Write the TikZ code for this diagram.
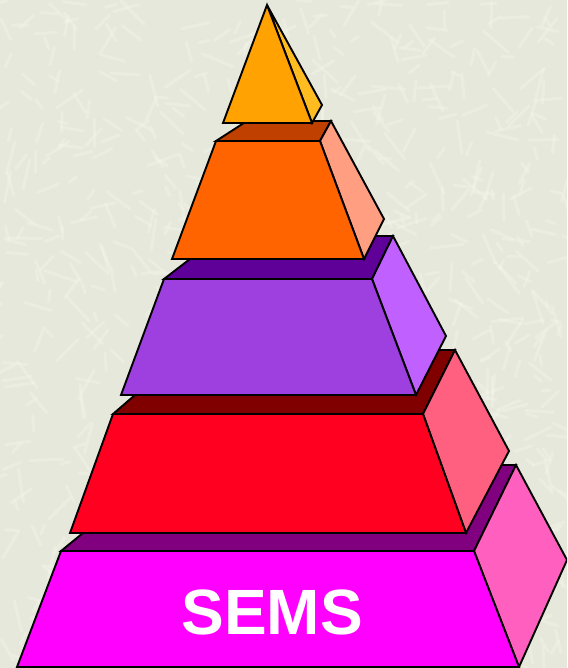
\documentclass[tikz,border=0pt]{standalone}
\usepackage{fontspec}
\setmainfont{Liberation Sans}
\usetikzlibrary{positioning}

\definecolor{paperbg}{HTML}{E5E8DA}
\definecolor{paperfleck}{HTML}{F6F7EE}
\definecolor{tipfront}{HTML}{FFA202}
\definecolor{tipside}{HTML}{FFBC20}
\definecolor{orangefront}{HTML}{FF6400}
\definecolor{orangetop}{HTML}{C04000}
\definecolor{orangeside}{HTML}{FF9E80}
\definecolor{purplefront}{HTML}{9E3FDF}
\definecolor{purpletop}{HTML}{5F0099}
\definecolor{purpleside}{HTML}{BF60FF}
\definecolor{redfront}{HTML}{FF0020}
\definecolor{redtop}{HTML}{800000}
\definecolor{redside}{HTML}{FF6080}
\definecolor{pinkfront}{HTML}{FF00FF}
\definecolor{pinktop}{HTML}{800080}
\definecolor{pinkside}{HTML}{FF60BF}

\tikzset{
    face/.style={draw=black, line width=1.9pt, line join=miter, fill=#1},
    fleck/.style={draw=paperfleck, line width=3pt, line cap=round, opacity=0.38}
}

\begin{document}
\begin{tikzpicture}[x=1pt, y=-1pt]
    \useasboundingbox (0,0) rectangle (567,668);
    \clip (0,0) rectangle (567,668);
    \fill[paperbg] (0,0) rectangle (567,668);

    % pale streaks of the paper
    \pgfmathsetseed{4217}
    \foreach \i in {1,...,900}{
        \pgfmathsetmacro{\fx}{rnd*567}
        \pgfmathsetmacro{\fy}{rnd*668}
        \pgfmathsetmacro{\fa}{rnd*180}
        \pgfmathsetmacro{\fl}{8+rnd*26}
        \draw[fleck] (\fx,\fy) -- ++(\fa:\fl);
    }

    % bottom slab
    \draw[face=pinktop] (61,551) -- (83,533) -- (466,533) -- (489,465) -- (516,465) -- (474,551) -- cycle;
    \draw[face=pinkside] (474,551) -- (516,465) -- (567,560) -- (519,667) -- cycle;
    \draw[face=pinkfront] (61,551) -- (474,551) -- (519,667) -- (17,667) -- cycle;
    \node[font=\fontsize{64}{64}\selectfont\bfseries, text=white] (semsLabel) at (272,612) {SEMS};

    % red slab
    \draw[face=redtop] (113,414) -- (135,395) -- (416,395) -- (429,350) -- (455,350) -- (423,414) -- cycle;
    \draw[face=redside] (423,414) -- (455,350) -- (509,451) -- (466,533) -- cycle;
    \draw[face=redfront] (113,414) -- (423,414) -- (466,533) -- (70,533) -- cycle;

    % purple slab
    \draw[face=purpletop] (164,279) -- (190,259) -- (364,259) -- (375,236) -- (393,236) -- (372,279) -- cycle;
    \draw[face=purpleside] (372,279) -- (393,236) -- (446,336) -- (416,395) -- cycle;
    \draw[face=purplefront] (164,279) -- (372,279) -- (416,395) -- (121,395) -- cycle;

    % orange slab
    \draw[face=orangetop] (216,141) -- (247,121) -- (331,121) -- (320,141) -- cycle;
    \draw[face=orangeside] (320,141) -- (331,121) -- (384,219) -- (364,259) -- cycle;
    \draw[face=orangefront] (216,141) -- (320,141) -- (364,259) -- (172,259) -- cycle;

    % tip
    \draw[face=tipside] (267,5) -- (322,105) -- (312,123) -- cycle;
    \draw[face=tipfront] (267,5) -- (312,123) -- (223,123) -- cycle;
\end{tikzpicture}
\end{document}
